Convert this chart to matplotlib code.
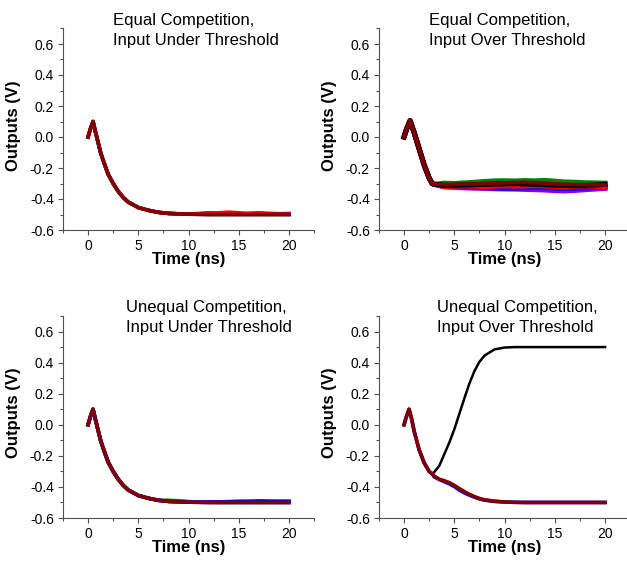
import matplotlib
matplotlib.use("Agg")
import matplotlib.pyplot as plt
from matplotlib.ticker import MultipleLocator, FormatStrFormatter

plt.rcParams["font.family"] = ["Liberation Sans", "DejaVu Sans"]
plt.rcParams["axes.unicode_minus"] = False

# ---- data ----
titles = ["Equal Competition,\nInput Under Threshold",
          "Equal Competition,\nInput Over Threshold",
          "Unequal Competition,\nInput Under Threshold",
          "Unequal Competition,\nInput Over Threshold"]

# input under threshold: all outputs decay together to -0.5 V
time_under = [0, 0.25, 0.5, 0.75, 1, 1.25, 1.5, 2, 2.5, 3, 3.5, 4, 5, 6, 7, 8, 9,
              10, 11, 12, 13, 14, 15, 16, 17, 18, 19, 20]
out_under = [0, 0.055, 0.10, 0.03, -0.035, -0.10, -0.15, -0.24, -0.30, -0.35, -0.39,
             -0.42, -0.455, -0.473, -0.486, -0.493, -0.496, -0.498, -0.499, -0.5,
             -0.5, -0.5, -0.5, -0.5, -0.5, -0.5, -0.5, -0.5]

# small wiggles on the tail (t = 8..20) of some traces
tail_time = [8, 9, 10, 11, 12, 13, 14, 15, 16, 17, 18, 19, 20]
eq_under_red_tail = [-0.493, -0.496, -0.497, -0.495, -0.493, -0.489, -0.485, -0.489,
                     -0.494, -0.494, -0.496, -0.497, -0.497]
eq_under_blue_tail = [-0.493, -0.495, -0.496, -0.494, -0.490, -0.493, -0.495, -0.496,
                      -0.493, -0.490, -0.493, -0.495, -0.494]
uneq_under_green_tail = [-0.486, -0.489, -0.494, -0.497, -0.498, -0.499, -0.499,
                         -0.499, -0.499, -0.499, -0.499, -0.499, -0.499]
uneq_under_magenta_tail = [-0.493, -0.495, -0.496, -0.496, -0.497, -0.496, -0.495,
                           -0.492, -0.492, -0.493, -0.492, -0.492, -0.493]
uneq_under_blue_tail = [-0.493, -0.495, -0.496, -0.497, -0.497, -0.496, -0.495,
                        -0.494, -0.493, -0.490, -0.492, -0.493, -0.492]

# input over threshold, equal competition: drop then hover near -0.31 V
time_over_rise = [0, 0.25, 0.6, 1.0, 1.5, 2.0, 2.5, 2.8, 3.0]
out_over_rise = [0, 0.05, 0.105, 0.03, -0.075, -0.18, -0.265, -0.30, -0.305]
flat_time = [3, 4, 5, 6, 7, 8, 9, 10, 11, 12, 13, 14, 15, 16, 17, 18, 19, 20]
flat_green = [-0.300, -0.298, -0.300, -0.296, -0.292, -0.287, -0.283, -0.282, -0.284,
              -0.281, -0.283, -0.280, -0.285, -0.290, -0.292, -0.295, -0.296, -0.298]
flat_violet = [-0.315, -0.322, -0.326, -0.328, -0.330, -0.332, -0.334, -0.335, -0.336,
               -0.338, -0.340, -0.342, -0.346, -0.348, -0.345, -0.340, -0.336, -0.332]
flat_magenta = [-0.312, -0.318, -0.322, -0.318, -0.315, -0.312, -0.316, -0.320, -0.318,
                -0.314, -0.312, -0.318, -0.322, -0.318, -0.320, -0.324, -0.322, -0.318]
flat_red = [-0.318, -0.320, -0.318, -0.316, -0.318, -0.320, -0.317, -0.315, -0.318,
            -0.316, -0.314, -0.316, -0.319, -0.321, -0.318, -0.316, -0.318, -0.320]
flat_blue = [-0.313, -0.316, -0.318, -0.320, -0.322, -0.326, -0.328, -0.330, -0.331,
             -0.328, -0.325, -0.327, -0.330, -0.332, -0.330, -0.328, -0.325, -0.322]
flat_black = [-0.310, -0.312, -0.312, -0.310, -0.308, -0.306, -0.304, -0.303, -0.301,
              -0.303, -0.306, -0.308, -0.312, -0.313, -0.314, -0.313, -0.310, -0.305]
flat_maroon = [-0.305, -0.307, -0.306, -0.305, -0.303, -0.300, -0.298, -0.296, -0.294,
               -0.292, -0.295, -0.298, -0.302, -0.305, -0.307, -0.308, -0.309, -0.310]

# input over threshold, unequal competition: one winner rises to +0.5 V
time_uo_rise = [0, 0.25, 0.5, 0.75, 1.0, 1.5, 2.0, 2.5, 2.8]
out_uo_rise = [0, 0.055, 0.10, 0.04, -0.04, -0.16, -0.245, -0.30, -0.316]
time_split = [2.8, 3.0, 3.5, 4.0, 4.5, 5.0, 5.5, 6.0, 6.5, 7.0, 7.5, 8.0, 9.0, 10,
              11, 12, 14, 16, 18, 20]
out_winner = [-0.316, -0.305, -0.265, -0.19, -0.115, -0.03, 0.07, 0.17, 0.265, 0.345,
              0.405, 0.445, 0.485, 0.497, 0.5, 0.5, 0.5, 0.5, 0.5, 0.5]
out_loser = [-0.316, -0.33, -0.35, -0.36, -0.372, -0.39, -0.41, -0.43, -0.447, -0.462,
             -0.474, -0.483, -0.492, -0.497, -0.499, -0.5, -0.5, -0.5, -0.5, -0.5]
out_loser_blue = [-0.318, -0.335, -0.352, -0.366, -0.38, -0.398, -0.42, -0.438, -0.453,
                  -0.466, -0.477, -0.485, -0.493, -0.497, -0.499, -0.5, -0.5, -0.5,
                  -0.5, -0.5]

MAROON = "#800000"
VIOLET = "#8a00e6"


def style_axes(ax):
    """Origin-like axes: left/bottom spines, minor ticks, bold labels."""
    for side in ["top", "right"]:
        ax.spines[side].set_visible(False)
    for side in ["left", "bottom"]:
        ax.spines[side].set_color("#505050")
        ax.spines[side].set_linewidth(0.8)
    ax.set_xlim(-2.5, 22.5)
    ax.set_ylim(-0.6, 0.7)
    ax.xaxis.set_major_locator(MultipleLocator(5))
    ax.xaxis.set_minor_locator(MultipleLocator(2.5))
    ax.yaxis.set_major_locator(MultipleLocator(0.2))
    ax.yaxis.set_minor_locator(MultipleLocator(0.1))
    ax.yaxis.set_major_formatter(FormatStrFormatter("%.1f"))
    ax.tick_params(which="major", direction="out", length=3.5, width=0.8,
                   color="#505050", labelsize=10, pad=3)
    ax.tick_params(which="minor", direction="out", length=2, width=0.8, color="#505050")
    ax.set_xlabel("Time (ns)", fontsize=12, fontweight="bold")
    ax.set_ylabel("Outputs (V)", fontsize=12, fontweight="bold")
    ax.xaxis.set_label_coords(0.5, -0.11)
    ax.yaxis.set_label_coords(-0.165, 0.52)


fig = plt.figure(figsize=(6.27, 5.61), dpi=100)
W, H = 627.0, 561.0
# axes rectangles from pixel positions in the reference
ax_eu = fig.add_axes([62.9 / W, (561 - 230) / H, 251.3 / W, 201.5 / H])
ax_eo = fig.add_axes([378.9 / W, (561 - 230) / H, 251.3 / W, 201.5 / H])
ax_uu = fig.add_axes([62.9 / W, (561 - 518) / H, 251.3 / W, 202 / H])
ax_uo = fig.add_axes([378.9 / W, (561 - 518) / H, 251.3 / W, 202 / H])

lw = 2.6

# --- equal competition, under threshold
ax = ax_eu
base_t = time_under[:15]
base_v = out_under[:15]
ax.plot(time_under, out_under, color="black", lw=lw)
ax.plot(base_t + tail_time, base_v + eq_under_blue_tail, color="blue", lw=lw)
ax.plot(base_t + tail_time, base_v + eq_under_red_tail, color="red", lw=lw)
ax.plot(time_under, out_under, color=MAROON, lw=lw)

# --- equal competition, over threshold
ax = ax_eo
for vals, col in [(flat_green, "green"), (flat_violet, VIOLET), (flat_magenta, "magenta"),
                  (flat_blue, "blue"), (flat_red, "red"), (flat_black, "black"),
                  (flat_maroon, MAROON)]:
    ax.plot(time_over_rise + flat_time[1:], out_over_rise + vals[1:], color=col,
            lw=3.6 if col != MAROON else lw)

# --- unequal competition, under threshold
ax = ax_uu
ax.plot(time_under, out_under, color="black", lw=lw)
ax.plot(base_t + tail_time, base_v + uneq_under_green_tail, color="green", lw=lw)
ax.plot(base_t + tail_time, base_v + uneq_under_magenta_tail, color="magenta", lw=lw)
ax.plot(base_t + tail_time, base_v + uneq_under_blue_tail, color="blue", lw=lw)
ax.plot(time_under, out_under, color=MAROON, lw=lw)

# --- unequal competition, over threshold
ax = ax_uo
ax.plot(time_uo_rise + time_split[1:], out_uo_rise + out_winner[1:], color="black", lw=1.8)
ax.plot(time_uo_rise + time_split[1:], out_uo_rise + out_loser_blue[1:], color="blue", lw=lw)
ax.plot(time_uo_rise + time_split[1:], out_uo_rise + out_loser[1:], color=MAROON, lw=lw)

# styling + titles (left-aligned two-line titles)
title_pos = [(0.199, 1.017, 0.918), (0.199, 1.017, 0.918),
             (0.253, 1.021, 0.922), (0.231, 1.021, 0.922)]
for ax, title, (tx, y1, y2) in zip([ax_eu, ax_eo, ax_uu, ax_uo], titles, title_pos):
    style_axes(ax)
    line1, line2 = title.split("\n")
    ax.text(tx, y1, line1, transform=ax.transAxes, fontsize=12, ha="left",
            va="baseline", clip_on=False)
    ax.text(tx, y2, line2, transform=ax.transAxes, fontsize=12, ha="left",
            va="baseline", clip_on=False)

fig.savefig("out.png", dpi=100)
